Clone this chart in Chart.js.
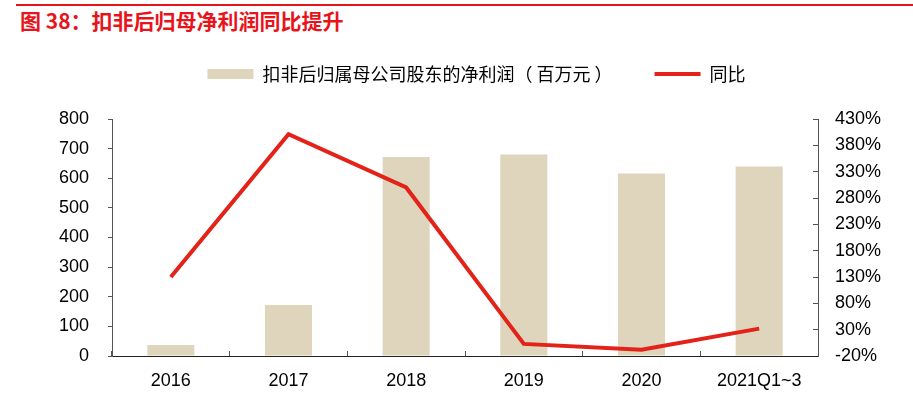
<!DOCTYPE html>
<html>
<head>
<meta charset="utf-8">
<script src="https://cdn.jsdelivr.net/npm/chart.js@4.4.1/dist/chart.umd.min.js"></script>
<style>
  html, body { margin: 0; padding: 0; background: #fff; }
  #wrap { position: relative; width: 913px; height: 397px; overflow: hidden; }
  #topline { position: absolute; left: 16px; top: 4px; width: 897px; height: 2px; background: #e8141b; }
  #title { position: absolute; left: 20px; top: 6px; font-family: "Noto Sans CJK SC", sans-serif; font-weight: bold; font-size: 21px; color: #e8141b; line-height: 28px; white-space: nowrap; }
  canvas { position: absolute; left: 0; top: 0; }
</style>
</head>
<body>
<div id="wrap">
  <div id="topline"></div>
  <div id="title">图 38：扣非后归母净利润同比提升</div>
  <canvas id="c" width="913" height="397"></canvas>
</div>
<script>
const categories = ['2016', '2017', '2018', '2019', '2020', '2021Q1~3'];
const profitValues = [37, 172, 672, 680, 616, 640];
const yoyValues = [130, 401, 300, 3, -8, 32];
const leftTicks = [0, 100, 200, 300, 400, 500, 600, 700, 800];
const rightTicks = [-20, 30, 80, 130, 180, 230, 280, 330, 380, 430];
const barLabel = '扣非后归属母公司股东的净利润（ 百万元 ）';
const lineLabel = '同比';

const AREA = { left: 112, right: 818, top: 119, bottom: 356 };
const W = 913, H = 397;
const PAD_LEFT = 40;
const LEG_PAD = 42;
const LEG_FONT = 18;
const PAD_TOP = 74 - LEG_PAD - LEG_FONT / 2;

const legendSpacer = {
  id: 'legendSpacer',
  beforeLayout(chart) {
    const lg = chart.legend;
    if (lg && !lg._patched) {
      const orig = lg.fit;
      lg.fit = function () { orig.call(this); this.height = AREA.top - PAD_TOP; };
      lg._patched = true;
    }
  }
};

const numFont = { family: '"Liberation Sans", Arial, sans-serif', size: 18 };

new Chart(document.getElementById('c'), {
  data: {
    labels: categories,
    datasets: [
      {
        type: 'line',
        label: lineLabel,
        data: yoyValues,
        yAxisID: 'y1',
        borderColor: '#e32219',
        backgroundColor: '#e32219',
        borderWidth: 4,
        pointRadius: 0,
        pointHoverRadius: 0,
        tension: 0,
        order: 0,
        pointStyle: 'line'
      },
      {
        type: 'bar',
        label: barLabel,
        data: profitValues,
        yAxisID: 'y',
        backgroundColor: '#dfd5bd',
        borderWidth: 0,
        categoryPercentage: 1,
        barPercentage: 0.4,
        order: 1,
        pointStyle: 'rect'
      }
    ]
  },
  options: {
    responsive: false,
    animation: false,
    devicePixelRatio: 1,
    layout: { padding: { top: PAD_TOP, left: PAD_LEFT, right: 0, bottom: 0 } },
    plugins: {
      tooltip: { enabled: false },
      legend: {
        position: 'top',
        align: 'center',
        reverse: true,
        labels: {
          usePointStyle: true,
          pointStyleWidth: 46,
          boxHeight: 10,
          padding: LEG_PAD,
          color: '#000',
          font: { family: '"Noto Sans CJK SC", sans-serif', size: LEG_FONT }
        }
      }
    },
    scales: {
      x: {
        position: 'bottom',
        offset: true,
        grid: { display: true, drawOnChartArea: false, offset: true, tickLength: -5, color: '#555', tickColor: '#555', tickWidth: 1 },
        border: { display: true, color: '#222', width: 1 },
        ticks: { color: '#000', font: numFont, padding: 19, maxRotation: 0, autoSkip: false },
        afterFit(s) { s.height = H - AREA.bottom; }
      },
      y: {
        position: 'left',
        min: 0, max: 800,
        afterBuildTicks(s) { s.ticks = leftTicks.map(v => ({ value: v })); },
        grid: { display: true, drawOnChartArea: false, tickLength: 4, color: '#555', tickColor: '#555' },
        border: { display: true, color: '#555', width: 1 },
        ticks: { color: '#000', font: numFont, padding: 19 },
        afterFit(s) { s.width = AREA.left - PAD_LEFT; }
      },
      y1: {
        position: 'right',
        min: -20, max: 430,
        afterBuildTicks(s) { s.ticks = rightTicks.map(v => ({ value: v })); },
        grid: { display: true, drawOnChartArea: false, tickLength: -5, color: '#555', tickColor: '#555' },
        border: { display: true, color: '#555', width: 1 },
        ticks: { color: '#000', font: numFont, padding: 22, callback: v => v + '%' },
        afterFit(s) { s.width = W - AREA.right; }
      }
    }
  },
  plugins: [legendSpacer]
});
</script>
</body>
</html>
